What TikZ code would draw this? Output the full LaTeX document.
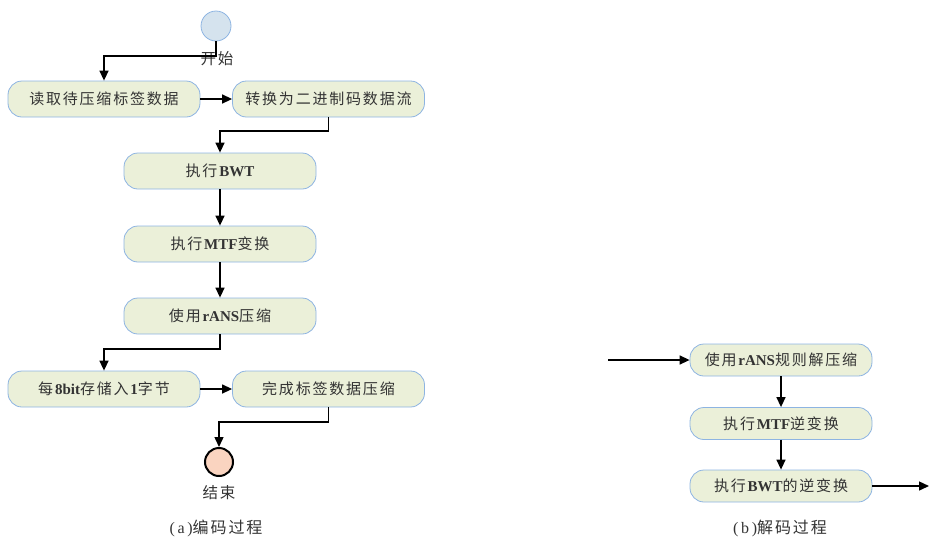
\documentclass[tikz,border=0pt]{standalone}
\usepackage{fontspec}
\setmainfont{Liberation Serif}
\newfontfamily\cjk[LetterSpace=12]{Noto Sans CJK SC}
\usetikzlibrary{arrows.meta}
\definecolor{boxfill}{HTML}{EBF0D9}
\definecolor{boxline}{HTML}{8DB4E2}
\definecolor{startfill}{HTML}{D5E3EE}
\definecolor{endfill}{HTML}{FAD4C0}
\newcommand\zh[1]{{\cjk #1}}
\newcommand\la[1]{\textbf{#1}}
\begin{document}
\begin{tikzpicture}[x=1pt,y=-1pt,
  box/.style={draw=boxline, fill=boxfill, rounded corners=14pt, minimum width=192pt, minimum height=36pt, inner sep=0pt, line width=0.8pt, font=\fontsize{15}{15}\selectfont, text=black!80},
  sbox/.style={box, minimum width=182pt, minimum height=32pt},
  arr/.style={-{Triangle[length=10pt,width=9pt]}, line width=1.4pt, black},
  lbl/.style={font=\fontsize{15.5}{15.5}\selectfont, text=black!80, inner sep=0pt},
  captxt/.style={font=\fontsize{16}{16}\selectfont, text=black!80, inner sep=0pt}]
\useasboundingbox (0,0) rectangle (929,539);
% encoding
\node[circle, draw=boxline, fill=startfill, minimum size=30pt, inner sep=0pt, line width=0.8pt] (start) at (216,26) {};
\node[lbl] (startl) at (217,59) {\zh{开始}};
\node[box] (b1) at (104,99) {\zh{读取待压缩标签数据}};
\node[box] (b2) at (328.5,99) {\zh{转换为二进制码数据流}};
\node[box] (b3) at (220,171) {\zh{执行}\la{BWT}};
\node[box] (b4) at (220,244) {\zh{执行}\la{MTF}\zh{变换}};
\node[box] (b5) at (220,316) {\zh{使用}\la{rANS}\zh{压缩}};
\node[box] (b6) at (104,389) {\zh{每}\la{8bit}\zh{存储入}\la{1}\zh{字节}};
\node[box] (b7) at (328.5,389) {\zh{完成标签数据压缩}};
\node[circle, draw=black, fill=endfill, minimum size=28pt, inner sep=0pt, line width=2pt] (end) at (219,462) {};
\node[lbl] (endl) at (219,493) {\zh{结束}};
\node[captxt] (capa) at (216,528) {(\,a\,)\zh{编码过程}};
\draw[arr] (start.south) -- (start.south |- 0,56) -| (b1.north);
\draw[arr] (b1.east) -- (b2.west);
\draw[arr] (b2.south) -- (b2.south |- 0,131) -| (b3.north);
\draw[arr] (b3.south) -- (b4.north);
\draw[arr] (b4.south) -- (b5.north);
\draw[arr] (b5.south) -- (b5.south |- 0,349) -| (b6.north);
\draw[arr] (b6.east) -- (b7.west);
\draw[arr] (b7.south) -- (b7.south |- 0,422) -| (end.north);
% decoding
\coordinate (in) at (608,360);
\coordinate (out) at (929,486);
\node[sbox] (d1) at (781,360) {\zh{使用}\la{rANS}\zh{规则解压缩}};
\node[sbox] (d2) at (781,423.5) {\zh{执行}\la{MTF}\zh{逆变换}};
\node[sbox] (d3) at (781,486) {\zh{执行}\la{BWT}\zh{的逆变换}};
\node[captxt] (capb) at (780,528) {(\,b\,)\zh{解码过程}};
\draw[arr] (in) -- (d1.west);
\draw[arr] (d1.south) -- (d2.north);
\draw[arr] (d2.south) -- (d3.north);
\draw[arr] (d3.east) -- (out);
\end{tikzpicture}
\end{document}
